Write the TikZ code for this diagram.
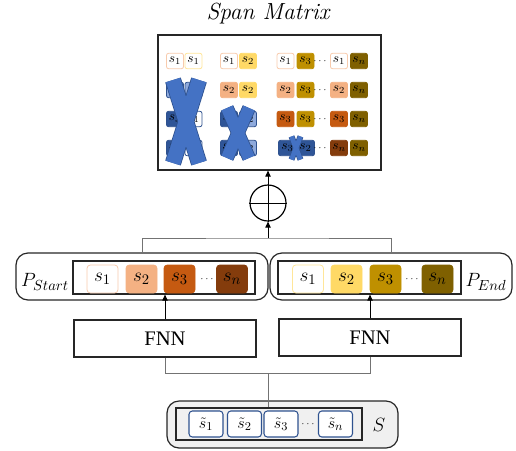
\documentclass[tikz,border=0pt]{standalone}
\usepackage{fontspec}
\newfontfamily\fnnfont{Liberation Serif}
\usetikzlibrary{arrows.meta,calc}

\definecolor{oraA}{HTML}{F8CBAD}
\definecolor{oraB}{HTML}{F4B183}
\definecolor{oraC}{HTML}{C55A11}
\definecolor{oraD}{HTML}{843C0C}
\definecolor{yelA}{HTML}{FFE699}
\definecolor{yelB}{HTML}{FFD966}
\definecolor{yelC}{HTML}{BF9000}
\definecolor{yelD}{HTML}{7F6000}
\definecolor{bluD}{HTML}{2F5597}
\definecolor{bluM}{HTML}{4472C4}
\definecolor{bluL}{HTML}{8FAADC}
\definecolor{bluE}{HTML}{2F528F}

\tikzset{
  box/.style={draw=black!85, line width=0.9pt},
  outerbox/.style={draw=black!85, line width=0.9pt, rounded corners=9pt},
  innerbox/.style={draw=black!85, line width=0.9pt},
  pcell/.style={rounded corners=2.5pt, line width=0.6pt, minimum width=23.25pt, minimum height=21pt, inner sep=0pt, font=\fontsize{15}{17}\selectfont},
  scell/.style={rounded corners=2.5pt, line width=0.8pt, draw=bluE, fill=white, minimum width=25.5pt, minimum height=19.5pt, inner sep=0pt, font=\fontsize{13}{15}\selectfont},
  mcell/.style={rounded corners=1.5pt, line width=0.6pt, minimum width=12.75pt, minimum height=11.5pt, inner sep=0pt, font=\fontsize{10}{11}\selectfont},
  dotlbl/.style={font=\fontsize{7}{8}\selectfont, inner sep=0pt},
  wire/.style={draw=black!55, line width=0.7pt},
  arr/.style={draw=black, line width=0.7pt, -{Triangle[length=4.5pt,width=4pt]}}
}

\def\crossx(#1,#2)(#3,#4)(#5:#6){%
  \draw[line width=#6, color=bluE] (#1-#3,#2-#4) -- (#1+#3,#2+#4) (#1+#3,#2-#4) -- (#1-#3,#2+#4);
  \draw[line width=#5, color=bluM] (#1-#3,#2-#4) -- (#1+#3,#2+#4) (#1+#3,#2-#4) -- (#1-#3,#2+#4);}

\begin{document}
\begin{tikzpicture}[x=0.75pt,y=-0.75pt]
  %%%%% START %%%%%
  \useasboundingbox (0,0) rectangle (516,450);

  \node[font=\fontsize{17.5}{20}\selectfont\itshape] (title) at (268,14) {Span Matrix};

  % span matrix
  \node[box, minimum width=167.25pt, minimum height=101.25pt] (mat) at (269.5,102.5) {};

  \node[mcell, draw=oraA, fill=white] (m11a) at (175,61) {$s_1$};
  \node[mcell, draw=yelA, fill=white] (m11b) at (193.5,61) {$s_1$};
  \node[mcell, draw=oraA, fill=white] (m12a) at (229,61) {$s_1$};
  \node[mcell, draw=yelB, fill=yelB] (m12b) at (248,61) {$s_2$};
  \node[mcell, draw=oraA, fill=white] (m13a) at (285.5,61) {$s_1$};
  \node[mcell, draw=yelC, fill=yelC] (m13b) at (305.5,61) {$s_3$};
  \node[dotlbl] (m1d) at (320,61) {$\cdots$};
  \node[mcell, draw=oraA, fill=white] (m14a) at (339,61) {$s_1$};
  \node[mcell, draw=yelD, fill=yelD] (m14b) at (359,61) {$s_n$};

  \node[mcell, draw=bluE, fill=bluL] (m21a) at (175,90) {$s_2$};
  \node[mcell, draw=bluE, fill=bluL] (m21b) at (193.5,90) {$s_1$};
  \node[mcell, draw=oraB, fill=oraB] (m22a) at (229,90) {$s_2$};
  \node[mcell, draw=yelB, fill=yelB] (m22b) at (248,90) {$s_2$};
  \node[mcell, draw=oraB, fill=oraB] (m23a) at (285.5,90) {$s_2$};
  \node[mcell, draw=yelC, fill=yelC] (m23b) at (305.5,90) {$s_3$};
  \node[dotlbl] (m2d) at (320,90) {$\cdots$};
  \node[mcell, draw=oraB, fill=oraB] (m24a) at (339,90) {$s_2$};
  \node[mcell, draw=yelD, fill=yelD] (m24b) at (359,90) {$s_n$};

  \node[mcell, draw=bluE, fill=bluD] (m31a) at (175,119) {$s_3$};
  \node[mcell, draw=bluE, fill=white] (m31b) at (193.5,119) {$s_1$};
  \node[mcell, draw=bluE, fill=bluD] (m32a) at (229,119) {$s_3$};
  \node[mcell, draw=bluE, fill=bluL] (m32b) at (248,119) {$s_2$};
  \node[mcell, draw=oraC, fill=oraC] (m33a) at (285.5,119) {$s_3$};
  \node[mcell, draw=yelC, fill=yelC] (m33b) at (305.5,119) {$s_3$};
  \node[dotlbl] (m3d) at (320,119) {$\cdots$};
  \node[mcell, draw=oraC, fill=oraC] (m34a) at (339,119) {$s_3$};
  \node[mcell, draw=yelD, fill=yelD] (m34b) at (359,119) {$s_n$};

  \node[mcell, draw=bluE, fill=bluD] (m41a) at (175,148) {$s_n$};
  \node[mcell, draw=bluE, fill=white] (m41b) at (193.5,148) {$s_1$};
  \node[mcell, draw=bluE, fill=bluD] (m42a) at (229,148) {$s_n$};
  \node[mcell, draw=bluE, fill=bluL] (m42b) at (248,148) {$s_2$};
  \node[mcell, draw=bluE, fill=bluD, minimum width=13.5pt] (m43a) at (287.5,148) {$s_3$};
  \node[mcell, draw=bluE, fill=bluD, minimum width=13.5pt] (m43b) at (305.5,148) {$s_2$};
  \node[dotlbl] (m4d) at (320,148) {$\cdots$};
  \node[mcell, draw=oraD, fill=oraD] (m44a) at (339,148) {$s_n$};
  \node[mcell, draw=yelD, fill=yelD] (m44b) at (359,148) {$s_n$};

  \crossx(186,121.5)(13,41.5)(11pt:12.2pt)
  \crossx(238,133)(11,25)(9pt:10.2pt)
  \crossx(296,148)(4.5,11.5)(3.5pt:4.5pt)

  % sum
  \node[circle, draw=black, line width=0.9pt, minimum size=27pt, inner sep=0pt] (sum) at (268,203) {};
  \draw[line width=0.7pt] (sum.north) -- (sum.south) (sum.west) -- (sum.east);
  \draw[arr] (sum.north) -- (sum.north |- mat.south);

  % P_Start
  \node[outerbox, minimum width=189pt, minimum height=35.25pt] (pstart) at (142,276.5) {};
  \node[innerbox, minimum width=136.5pt, minimum height=24.75pt] (pstartin) at (164,277.5) {};
  \node[pcell, draw=oraA, fill=white] (ps1) at (102.5,279) {$s_1$};
  \node[pcell, draw=oraB, fill=oraB] (ps2) at (141.5,279) {$s_2$};
  \node[pcell, draw=oraC, fill=oraC] (ps3) at (179.5,279) {$s_3$};
  \node[dotlbl] (psd) at (207,279) {$\cdots$};
  \node[pcell, draw=oraD, fill=oraD] (psn) at (232,279) {$s_n$};
  \node[font=\fontsize{15}{18}\selectfont] (pslbl) at (45,282) {$P_{Start}$};

  % P_End
  \node[outerbox, minimum width=181.5pt, minimum height=35.25pt] (pend) at (391,276.5) {};
  \node[innerbox, minimum width=137.25pt, minimum height=24.75pt] (pendin) at (369.5,277.5) {};
  \node[pcell, draw=yelA, fill=white] (pe1) at (308,279) {$s_1$};
  \node[pcell, draw=yelB, fill=yelB] (pe2) at (346.5,279) {$s_2$};
  \node[pcell, draw=yelC, fill=yelC] (pe3) at (385.5,279) {$s_3$};
  \node[dotlbl] (ped) at (412,279) {$\cdots$};
  \node[pcell, draw=yelD, fill=yelD] (pen) at (437.5,279) {$s_n$};
  \node[font=\fontsize{15}{18}\selectfont] (pelbl) at (486,282) {$P_{End}$};

  \coordinate (bus) at (268,238);
  \draw[wire] (pstart.north) |- (bus) -| (pend.north);
  \draw[arr] (bus) -- (sum.south);

  % FNN
  \node[box, minimum width=136.5pt, minimum height=27.75pt, font=\fnnfont\fontsize{15.5}{18}\selectfont] (fnnS) at (165,338.5) {FNN};
  \node[box, minimum width=136.5pt, minimum height=27.75pt, font=\fnnfont\fontsize{15.5}{18}\selectfont] (fnnE) at (370,337.5) {FNN};
  \draw[arr] (fnnS.north) -- (fnnS.north |- pstartin.south);
  \draw[arr] (fnnE.north) -- (fnnE.north |- pendin.south);

  % S
  \node[outerbox, fill=black!6, minimum width=173.25pt, minimum height=35.25pt] (sbox) at (282.5,424.5) {};
  \node[innerbox, minimum width=139.5pt, minimum height=24pt] (sin) at (269,424) {};
  \node[scell] (st1) at (206,424) {$\tilde{s}_1$};
  \node[scell] (st2) at (244.5,424) {$\tilde{s}_2$};
  \node[scell] (st3) at (281,424) {$\tilde{s}_3$};
  \node[dotlbl] (std) at (308,424) {$\cdots$};
  \node[scell] (stn) at (335.5,424) {$\tilde{s}_n$};
  \node[font=\fontsize{15}{18}\selectfont] (slbl) at (379,425) {$S$};

  \coordinate (join) at (268,373);
  \draw[wire] (fnnS.south) |- (join) -| (fnnE.south);
  \draw[wire] (join) -- (join |- sin.north);

  %%%%% END %%%%%
\end{tikzpicture}
\end{document}
